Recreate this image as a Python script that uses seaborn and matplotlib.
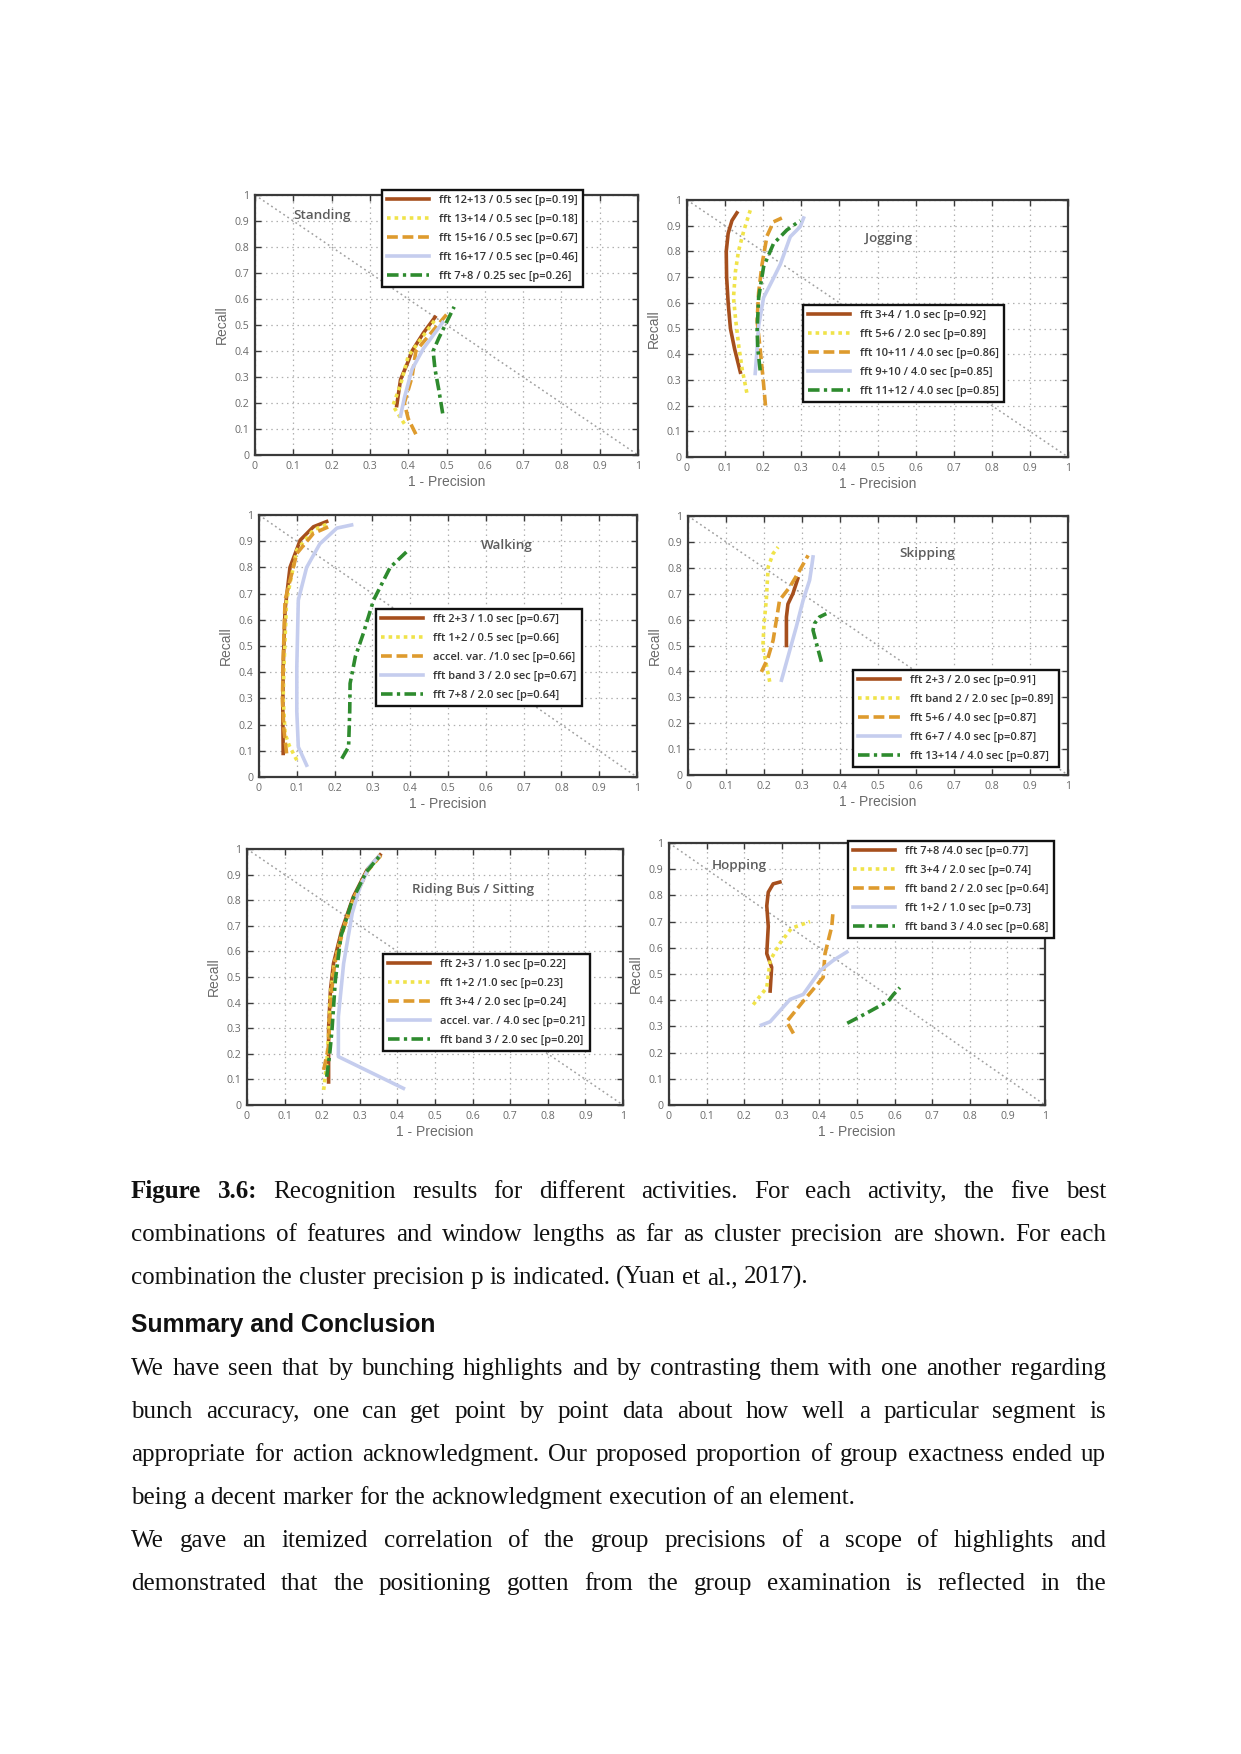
import numpy as np
import pandas as pd
import matplotlib
matplotlib.use("Agg")
import matplotlib.pyplot as plt
import seaborn as sns

# ---------------- data ----------------
STANDING_LABELS = ["fft 12+13 / 0.5 sec [p=0.19]", "fft 13+14 / 0.5 sec [p=0.18]",
                   "fft 15+16 / 0.5 sec [p=0.67]", "fft 16+17 / 0.5 sec [p=0.46]",
                   "fft 7+8 / 0.25 sec [p=0.26]"]
STANDING_X = [[0.37, 0.38, 0.40, 0.41, 0.44, 0.47],
              [0.39, 0.36, 0.38, 0.40, 0.44, 0.47],
              [0.42, 0.40, 0.39, 0.41, 0.42, 0.46, 0.50],
              [0.38, 0.39, 0.41, 0.44, 0.49],
              [0.49, 0.48, 0.47, 0.465, 0.48, 0.52]]
STANDING_Y = [[0.19, 0.29, 0.36, 0.40, 0.47, 0.53],
              [0.12, 0.19, 0.27, 0.38, 0.46, 0.52],
              [0.08, 0.14, 0.20, 0.30, 0.40, 0.47, 0.54],
              [0.15, 0.22, 0.33, 0.41, 0.51],
              [0.16, 0.25, 0.33, 0.40, 0.45, 0.57]]

JOGGING_LABELS = ["fft 3+4 / 1.0 sec [p=0.92]", "fft 5+6 / 2.0 sec [p=0.89]",
                  "fft 10+11 / 4.0 sec [p=0.86]", "fft 9+10 / 4.0 sec [p=0.85]",
                  "fft 11+12 / 4.0 sec [p=0.85]"]
JOGGING_X = [[0.14, 0.125, 0.114, 0.108, 0.104, 0.103, 0.108, 0.118, 0.131],
             [0.157, 0.145, 0.136, 0.128, 0.122, 0.127, 0.135, 0.149, 0.166],
             [0.206, 0.200, 0.192, 0.184, 0.188, 0.197, 0.21, 0.227, 0.249],
             [0.179, 0.184, 0.188, 0.201, 0.225, 0.245, 0.271, 0.297, 0.306],
             [0.192, 0.186, 0.184, 0.188, 0.201, 0.227, 0.262, 0.297]]
JOGGING_Y = [[0.33, 0.42, 0.50, 0.60, 0.70, 0.80, 0.87, 0.92, 0.95],
             [0.25, 0.34, 0.43, 0.53, 0.62, 0.72, 0.80, 0.88, 0.96],
             [0.20, 0.30, 0.42, 0.53, 0.64, 0.75, 0.86, 0.915, 0.93],
             [0.325, 0.42, 0.51, 0.62, 0.69, 0.75, 0.857, 0.896, 0.93],
             [0.337, 0.42, 0.49, 0.62, 0.74, 0.83, 0.883, 0.92]]

WALKING_LABELS = ["fft 2+3 / 1.0 sec [p=0.67]", "fft 1+2 / 0.5 sec [p=0.66]",
                  "accel. var. /1.0 sec [p=0.66]", "fft band 3 / 2.0 sec [p=0.67]",
                  "fft 7+8 / 2.0 sec [p=0.64]"]
WALKING_X = [[0.064, 0.063, 0.064, 0.069, 0.082, 0.109, 0.144, 0.179],
             [0.10, 0.08, 0.069, 0.064, 0.066, 0.073, 0.10, 0.144, 0.184],
             [0.073, 0.066, 0.062, 0.064, 0.069, 0.10, 0.144, 0.184],
             [0.126, 0.104, 0.10, 0.10, 0.104, 0.126, 0.161, 0.206, 0.245],
             [0.219, 0.237, 0.24, 0.241, 0.255, 0.276, 0.303, 0.347, 0.395]]
WALKING_Y = [[0.09, 0.25, 0.42, 0.64, 0.80, 0.904, 0.955, 0.975],
             [0.064, 0.12, 0.166, 0.30, 0.42, 0.675, 0.866, 0.943, 0.968],
             [0.09, 0.18, 0.29, 0.45, 0.675, 0.853, 0.93, 0.955],
             [0.045, 0.115, 0.25, 0.42, 0.675, 0.80, 0.89, 0.95, 0.962],
             [0.07, 0.115, 0.25, 0.357, 0.46, 0.548, 0.675, 0.80, 0.866]]

SKIPPING_LABELS = ["fft 2+3 / 2.0 sec [p=0.91]", "fft band 2 / 2.0 sec [p=0.89]",
                   "fft 5+6 / 4.0 sec [p=0.87]", "fft 6+7 / 4.0 sec [p=0.87]",
                   "fft 13+14 / 4.0 sec [p=0.87]"]
SKIPPING_X = [[0.259, 0.259, 0.263, 0.276, 0.289],
              [0.215, 0.197, 0.200, 0.206, 0.211, 0.224, 0.237],
              [0.193, 0.21, 0.224, 0.241, 0.268, 0.294, 0.316],
              [0.246, 0.263, 0.285, 0.303, 0.32, 0.325, 0.329],
              [0.351, 0.338, 0.329, 0.333, 0.346, 0.364]]
SKIPPING_Y = [[0.50, 0.61, 0.66, 0.70, 0.758],
              [0.36, 0.495, 0.58, 0.675, 0.803, 0.855, 0.88],
              [0.398, 0.45, 0.52, 0.675, 0.726, 0.79, 0.848],
              [0.366, 0.456, 0.572, 0.675, 0.752, 0.80, 0.842],
              [0.437, 0.508, 0.559, 0.585, 0.61, 0.623]]

RIDING_LABELS = ["fft 2+3 / 1.0 sec [p=0.22]", "fft 1+2 /1.0 sec [p=0.23]",
                 "fft 3+4 / 2.0 sec [p=0.24]", "accel. var. / 4.0 sec [p=0.21]",
                 "fft band 3 / 2.0 sec [p=0.20]"]
RIDING_X = [[0.217, 0.217, 0.222, 0.23, 0.252, 0.283, 0.319, 0.354],
            [0.204, 0.212, 0.218, 0.221, 0.232, 0.254, 0.285, 0.320, 0.355],
            [0.204, 0.217, 0.22, 0.224, 0.233, 0.255, 0.286, 0.321, 0.356],
            [0.416, 0.243, 0.243, 0.257, 0.28, 0.30, 0.325, 0.35],
            [0.212, 0.22, 0.226, 0.235, 0.25, 0.28, 0.317, 0.357]]
RIDING_Y = [[0.09, 0.30, 0.45, 0.553, 0.683, 0.814, 0.918, 0.977],
            [0.059, 0.163, 0.30, 0.423, 0.55, 0.68, 0.81, 0.915, 0.975],
            [0.137, 0.228, 0.33, 0.43, 0.55, 0.68, 0.81, 0.915, 0.975],
            [0.065, 0.189, 0.345, 0.553, 0.75, 0.85, 0.93, 0.97],
            [0.11, 0.20, 0.293, 0.488, 0.66, 0.80, 0.91, 0.98]]

HOPPING_LABELS = ["fft 7+8 /4.0 sec [p=0.77]", "fft 3+4 / 2.0 sec [p=0.74]",
                  "fft band 2 / 2.0 sec [p=0.64]", "fft 1+2 / 1.0 sec [p=0.73]",
                  "fft band 3 / 4.0 sec [p=0.68]"]
HOPPING_X = [[0.269, 0.273, 0.26, 0.264, 0.26, 0.264, 0.277, 0.295],
             [0.224, 0.26, 0.269, 0.295, 0.326, 0.375],
             [0.331, 0.313, 0.357, 0.41, 0.415, 0.433, 0.436],
             [0.246, 0.269, 0.322, 0.357, 0.402, 0.437, 0.473],
             [0.474, 0.526, 0.583, 0.597, 0.614]]
HOPPING_Y = [[0.435, 0.526, 0.578, 0.682, 0.76, 0.812, 0.844, 0.851],
             [0.383, 0.448, 0.552, 0.617, 0.675, 0.70],
             [0.273, 0.318, 0.396, 0.487, 0.578, 0.682, 0.734],
             [0.305, 0.318, 0.403, 0.422, 0.513, 0.552, 0.584],
             [0.312, 0.351, 0.396, 0.422, 0.448]]

DIAG_X = [0.0, 1.0]
DIAG_Y = [1.0, 0.0]
TICKS = [0.0, 0.1, 0.2, 0.3, 0.4, 0.5, 0.6, 0.7, 0.8, 0.9, 1.0]
TICK_LABELS = ["0", "0.1", "0.2", "0.3", "0.4", "0.5", "0.6", "0.7", "0.8", "0.9", "1"]

CAPTION_LINES = [
    "Figure 3.6: Recognition results for different activities. For each activity, the five best",
    "combinations of features and window lengths as far as cluster precision are shown. For each",
    "combination the cluster precision p is indicated. (Yuan et al., 2017).",
]
HEADING = "Summary and Conclusion"
BODY_LINES = [
    "We have seen that by bunching highlights and by contrasting them with one another regarding",
    "bunch accuracy, one can get point by point data about how well a particular segment is",
    "appropriate for action acknowledgment. Our proposed proportion of group exactness ended up",
    "being a decent marker for the acknowledgment execution of an element.",
    "We gave an itemized correlation of the group precisions of a scope of highlights and",
    "demonstrated that the positioning gotten from the group examination is reflected in the",
]

# ---------------- styles / layout ----------------
W, H = 1241, 1754
COLORS = ["#A64F1D", "#F0E34A", "#DE9B2E", "#C5CDEE", "#2E8B2E"]
STYLES = ["-", (0, (1, 1.1)), (0, (3.0, 1.3)), "-", (0, (3.2, 1.2, 0.9, 1.2))]
WIDTHS = [2.6, 2.6, 2.6, 2.6, 2.6]

PANELS = [
    # name, labels, xs, ys, axes px box (x0,y0,x1,y1), title pos, title ha, legend top-left px
    ("Standing", STANDING_LABELS, STANDING_X, STANDING_Y, (255, 195, 638, 455), (0.10, 0.92), "left", (382, 190)),
    ("Jogging", JOGGING_LABELS, JOGGING_X, JOGGING_Y, (687, 200, 1068, 457), (0.53, 0.85), "center", (803, 305)),
    ("Walking", WALKING_LABELS, WALKING_X, WALKING_Y, (259, 515, 637, 777), (0.657, 0.885), "center", (376, 609)),
    ("Skipping", SKIPPING_LABELS, SKIPPING_X, SKIPPING_Y, (688, 516, 1068, 775), (0.63, 0.855), "center", (853, 670)),
    ("Riding Bus / Sitting", RIDING_LABELS, RIDING_X, RIDING_Y, (247, 849, 623, 1105), (0.60, 0.84), "center", (383, 954)),
    ("Hopping", HOPPING_LABELS, HOPPING_X, HOPPING_Y, (669, 843, 1045, 1105), (0.113, 0.913), "left", (848, 841)),
]

fig = plt.figure(figsize=(W / 100, H / 100), dpi=100)
fig.patch.set_facecolor("white")

GRAY_TXT = "#6a6a6a"
for name, labels, xs, ys, box, tpos, tha, lpos in PANELS:
    x0, y0, x1, y1 = box
    ax = fig.add_axes([x0 / W, 1 - y1 / H, (x1 - x0) / W, (y1 - y0) / H])
    ax.set_facecolor("white")
    ax.set_xticks(TICKS)
    ax.set_yticks(TICKS)
    ax.set_xticklabels(TICK_LABELS)
    ax.set_yticklabels(TICK_LABELS)
    ax.grid(True, linestyle=(0, (1.2, 3)), color="#b0b0b0", linewidth=0.9)
    ax.set_axisbelow(True)
    sns.lineplot(x=DIAG_X, y=DIAG_Y, ax=ax, color="#a0a0a0", linewidth=1.1,
                 linestyle=(0, (1.2, 2)), sort=False, estimator=None)
    handles = []
    for i in range(5):
        df = pd.DataFrame({"x": xs[i], "y": ys[i]})
        sns.lineplot(data=df, x="x", y="y", ax=ax, sort=False, estimator=None,
                     color=COLORS[i], linestyle=STYLES[i], linewidth=WIDTHS[i])
        handles.append(ax.get_lines()[-1])
    ax.set_xlim(0, 1)
    ax.set_ylim(0, 1)
    for sp in ax.spines.values():
        sp.set_linewidth(1.6)
        sp.set_color("#3a3a3a")
    ax.tick_params(direction="in", top=True, right=True, length=4, width=1.0,
                   color="#3a3a3a", labelcolor=GRAY_TXT, labelsize=7.6, pad=4)
    for lab in ax.get_xticklabels() + ax.get_yticklabels():
        lab.set_family("Open Sans")
    ax.set_xlabel("1 - Precision", fontsize=10, color=GRAY_TXT, family="Liberation Sans", labelpad=2.5)
    ax.set_ylabel("Recall", fontsize=10, color=GRAY_TXT, family="Liberation Sans", labelpad=4)
    ax.text(tpos[0], tpos[1], name, transform=ax.transData, ha=tha, va="center",
            fontsize=9.7, color="#5c5c5c", family="Open Sans", fontweight="semibold")
    leg = ax.legend(handles, labels, loc="upper left",
                    bbox_to_anchor=(lpos[0] / W, 1 - lpos[1] / H),
                    bbox_transform=fig.transFigure, borderaxespad=0,
                    prop={"family": "Open Sans", "size": 8.0, "weight": "semibold"},
                    handlelength=3.8, handletextpad=0.9, labelspacing=0.72,
                    borderpad=0.45, fancybox=False, framealpha=1, edgecolor="#111111")
    leg.get_frame().set_linewidth(1.7)
    for t in leg.get_texts():
        t.set_color("#333333")

# ---------------- text block ----------------
TEXT_L, TEXT_R = 131, 1106
BODY_FS = 18.0
renderer = fig.canvas.get_renderer()


def measure(txt, **kw):
    t = fig.text(0, 0, txt, **kw)
    w = t.get_window_extent(renderer).width
    t.remove()
    return w


def draw_line(line, y_px, justify, bold_words=0):
    words = line.split(" ")
    objs = []
    for k, w in enumerate(words):
        wt = "bold" if k < bold_words else "normal"
        objs.append(fig.text(0, 1 - y_px / H, w, fontsize=BODY_FS, family="Liberation Serif",
                             fontweight=wt, va="baseline", ha="left", color="#111111"))
    widths = [o.get_window_extent(renderer).width for o in objs]
    if justify:
        gap = (TEXT_R - TEXT_L - sum(widths)) / (len(objs) - 1)
    else:
        kw = dict(fontsize=BODY_FS, family="Liberation Serif")
        gap = measure("a a", **kw) - measure("aa", **kw)
    x = TEXT_L
    for o, w in zip(objs, widths):
        o.set_x(x / W)
        x += w + gap


CAP_Y = [1198, 1241, 1284]
draw_line(CAPTION_LINES[0], CAP_Y[0], True, bold_words=2)
draw_line(CAPTION_LINES[1], CAP_Y[1], True)
draw_line(CAPTION_LINES[2], CAP_Y[2], False)

fig.text(TEXT_L / W, 1 - 1332 / H, HEADING, fontsize=17.8, family="Liberation Sans",
         fontweight="bold", va="baseline", ha="left", color="#111111")

BODY_Y = [1375, 1418, 1461, 1504, 1547, 1590]
BODY_JUST = [True, True, True, False, True, True]
for line, y, j in zip(BODY_LINES, BODY_Y, BODY_JUST):
    draw_line(line, y, j)

fig.savefig("out.png", dpi=100, facecolor="white")
